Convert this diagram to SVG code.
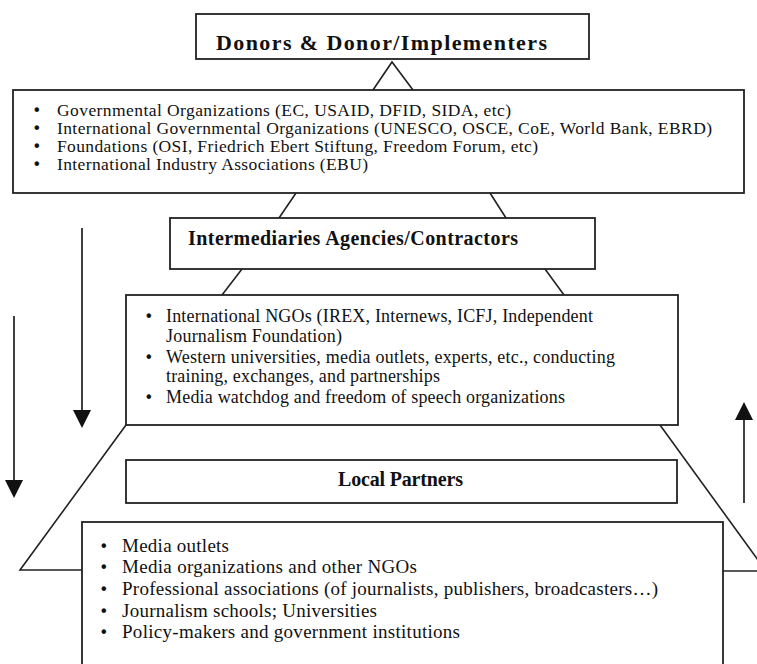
<svg xmlns="http://www.w3.org/2000/svg" width="757" height="664" viewBox="0 0 757 664">
<style>
.box{fill:#fff;stroke:#222;stroke-width:1.8}
.ln{fill:none;stroke:#222;stroke-width:1.6}
.ar{fill:none;stroke:#111;stroke-width:1.6}
.t{font-family:"Liberation Serif","Times New Roman",serif;fill:#111}
.b{font-family:"Liberation Sans",Arial,sans-serif;font-weight:bold;fill:#111;font-size:16px}
.h{font-family:"Liberation Serif","Times New Roman",serif;font-weight:bold;fill:#111;font-size:20px}
.h1{font-size:22px}
.s2{font-size:17.5px}
.s4{font-size:18px}
.s5{font-size:19px}
</style>
<defs>
<marker id="ah" viewBox="0 0 18 18" markerWidth="18" markerHeight="18" markerUnits="userSpaceOnUse" refX="8" refY="9" orient="auto">
<path d="M0,0 L18,9 L0,18 Z" fill="#111"/>
</marker>
</defs>
<rect width="757" height="664" fill="#fff"/>

<g id="connectors">
<polyline class="ln" points="373,90 392,62 413,90"/>
<line class="ln" x1="296" y1="193" x2="279" y2="218"/>
<line class="ln" x1="490" y1="193" x2="506" y2="218"/>
<line class="ln" x1="242" y1="269" x2="222" y2="295"/>
<line class="ln" x1="545" y1="269" x2="564" y2="295"/>
<polyline class="ln" points="126,425 20,570 82,570"/>
<line class="ln" x1="660" y1="425" x2="766" y2="571"/>
<line class="ln" x1="723" y1="571" x2="760" y2="571"/>
<line class="ar" x1="82" y1="228" x2="82" y2="418" marker-end="url(#ah)"/>
<line class="ar" x1="14" y1="316" x2="14" y2="488" marker-end="url(#ah)"/>
<line class="ar" x1="744" y1="503" x2="744" y2="412" marker-end="url(#ah)"/>
</g>

<g id="donors-title">
<rect class="box" x="196" y="14" width="393" height="45"/>
<text class="h h1" x="216" y="50" textLength="331">Donors &amp; Donor/Implementers</text>
</g>

<g id="donors-list">
<rect class="box" x="13" y="90" width="731" height="103"/>
<g class="b">
<text x="34" y="115">•</text>
<text x="34" y="133">•</text>
<text x="34" y="151">•</text>
<text x="34" y="169">•</text>
</g>
<g class="t s2">
<text x="57" y="116" textLength="454">Governmental Organizations (EC, USAID, DFID, SIDA, etc)</text>
<text x="57" y="134" textLength="655">International Governmental Organizations (UNESCO, OSCE, CoE, World Bank, EBRD)</text>
<text x="57" y="152" textLength="481">Foundations (OSI, Friedrich Ebert Stiftung, Freedom Forum, etc)</text>
<text x="57" y="170" textLength="311">International Industry Associations (EBU)</text>
</g>
</g>

<g id="intermediaries-title">
<rect class="box" x="170" y="218" width="425" height="51"/>
<text class="h" x="188" y="245" textLength="330">Intermediaries Agencies/Contractors</text>
</g>

<g id="intermediaries-list">
<rect class="box" x="126" y="295" width="552" height="130"/>
<g class="b">
<text x="146" y="321">•</text>
<text x="146" y="362">•</text>
<text x="146" y="402">•</text>
</g>
<g class="t s4">
<text x="166" y="322" textLength="427">International NGOs (IREX, Internews, ICFJ, Independent</text>
<text x="166" y="342" textLength="176">Journalism Foundation)</text>
<text x="166" y="363" textLength="449">Western universities, media outlets, experts, etc., conducting</text>
<text x="166" y="382" textLength="274">training, exchanges, and partnerships</text>
<text x="166" y="403" textLength="399">Media watchdog and freedom of speech organizations</text>
</g>
</g>

<g id="local-title">
<rect class="box" x="126" y="460" width="551" height="43"/>
<text class="h" x="338" y="486" textLength="125">Local Partners</text>
</g>

<g id="local-list">
<rect class="box" x="82" y="522" width="641" height="160"/>
<g class="b">
<text x="101" y="551">•</text>
<text x="101" y="572">•</text>
<text x="101" y="594">•</text>
<text x="101" y="616">•</text>
<text x="101" y="637">•</text>
</g>
<g class="t s5">
<text x="122" y="552" textLength="107">Media outlets</text>
<text x="122" y="573" textLength="295">Media organizations and other NGOs</text>
<text x="122" y="595" textLength="536">Professional associations (of journalists, publishers, broadcasters…)</text>
<text x="122" y="617" textLength="255">Journalism schools; Universities</text>
<text x="122" y="638" textLength="338">Policy-makers and government institutions</text>
</g>
</g>
</svg>
